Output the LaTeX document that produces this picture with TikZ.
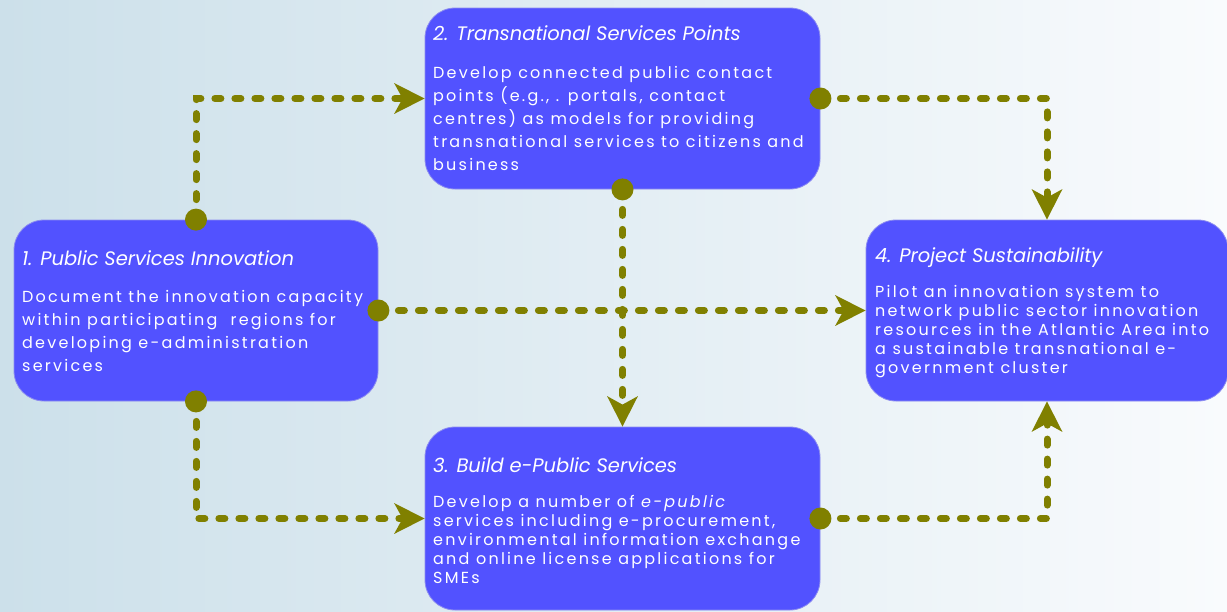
\documentclass[tikz,border=0pt]{standalone}
\usepackage{fontspec}
\usetikzlibrary{arrows.meta}
\newfontfamily\bodyfont[LetterSpace=14]{Poppins}
\newfontfamily\headfont{Poppins}
\definecolor{boxblue}{HTML}{5252FF}
\definecolor{boxedge}{HTML}{8C8CF0}
\definecolor{conncol}{HTML}{808000}
\definecolor{bgleft}{HTML}{CCE0EA}
\definecolor{bgright}{HTML}{F9FBFD}
\begin{document}
\begin{tikzpicture}[x=1pt,y=-1pt,
  box/.style={draw=boxedge, line width=0.8pt, fill=boxblue, rounded corners=30pt, inner sep=0pt},
  ttl/.style={anchor=base west, inner sep=0pt, text=white, font=\headfont\itshape\fontsize{19.5}{22}\selectfont},
  bodytxt/.style={anchor=base west, inner sep=0pt, text=white, align=left},
  conn/.style={draw=conncol, line width=7pt, line cap=round, dash pattern=on 6pt off 14pt,
     -{Stealth[length=30pt, width=30pt, inset=8pt, line cap=butt]}},
  conndot/.style={fill=conncol}
]
\useasboundingbox (0,0) rectangle (1227,611);
\shade[left color=bgleft, right color=bgright] (0,0) rectangle (1227,611);

\node[box, minimum width=364pt, minimum height=181pt] (b1) at (196,310.5) {};
\node[box, minimum width=395pt, minimum height=181pt] (b2) at (622.5,98.5) {};
\node[box, minimum width=395pt, minimum height=183pt] (b3) at (622.5,518.5) {};
\node[box, minimum width=362pt, minimum height=181pt] (b4) at (1047,310.5) {};

% connectors
\draw[conn] (b1.north) |- (b2.west);
\draw[conn] (b2.east) -| (b4.north);
\draw[conn] (b1.east) -- (b4.west);
\draw[conn] (b2.south) -- (b3.north);
\draw[conn] (b1.south) |- (b3.west);
\draw[conn] (b3.east) -| (b4.south);
\foreach \p in {b1.north,b1.east,b1.south,b2.east,b2.south,b3.east}
  \fill[conndot] (\p) circle (11pt);

% texts (body nodes anchored at the baseline of their last line)
\node[ttl] (t1) at (22,265) {1. Public Services Innovation};
\node[bodytxt, font=\bodyfont\fontsize{16}{23}\selectfont] (d1) at (22,371)
 {Document the innovation capacity\\within participating\ \ regions for\\developing e-administration\\services};

\node[ttl] (t2) at (433,40) {2. Transnational Services Points};
\node[bodytxt, font=\bodyfont\fontsize{16}{23}\selectfont] (d2) at (433,170)
 {Develop connected public contact\\points (e.g., . portals, contact\\centres) as models for providing\\transnational services to citizens and\\business};

\node[ttl] (t3) at (433,472) {3. Build e-Public Services};
\node[bodytxt, font=\bodyfont\fontsize{16}{19}\selectfont] (d3) at (433,583)
 {Develop a number of \textit{e-public}\\services including e-procurement,\\environmental information exchange\\and online license applications for\\SMEs};

\node[ttl] (t4) at (875,262) {4. Project Sustainability};
\node[bodytxt, font=\bodyfont\fontsize{16}{19}\selectfont] (d4) at (875,373)
 {Pilot an innovation system to\\network public sector innovation\\resources in the Atlantic Area into\\a sustainable transnational e-\\government cluster};
\end{tikzpicture}
\end{document}
